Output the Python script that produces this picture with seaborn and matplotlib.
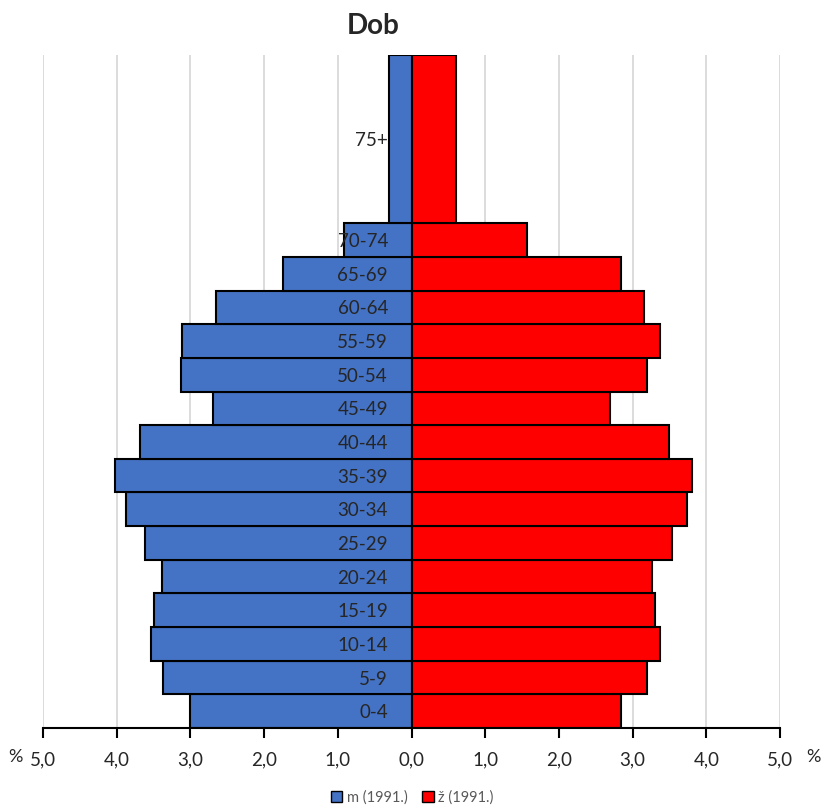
import numpy as np
import matplotlib
matplotlib.use("Agg")
import matplotlib.pyplot as plt
import seaborn as sns
from matplotlib.patches import Patch

# Age groups (bottom to top), span in 5-year bands
age_groups = ["0-4", "5-9", "10-14", "15-19", "20-24", "25-29", "30-34", "35-39",
              "40-44", "45-49", "50-54", "55-59", "60-64", "65-69", "70-74", "75+"]
age_span = [1, 1, 1, 1, 1, 1, 1, 1, 1, 1, 1, 1, 1, 1, 1, 5]

# Share of population (%), 1991
male_1991 = [3.01, 3.37, 3.53, 3.49, 3.39, 3.61, 3.87, 4.02,
             3.68, 2.70, 3.13, 3.11, 2.65, 1.74, 0.92, 0.31]
female_1991 = [2.84, 3.19, 3.37, 3.31, 3.27, 3.53, 3.74, 3.80,
               3.50, 2.70, 3.20, 3.37, 3.16, 2.84, 1.57, 0.60]

x_ticks = [-5, -4, -3, -2, -1, 0, 1, 2, 3, 4, 5]

sns.set_style("white")
plt.rcParams["font.family"] = ["Lato", "DejaVu Sans"]

fig = plt.figure(figsize=(8.24, 8.07), dpi=100)
ax = fig.add_axes([0.0522, 0.0979, 0.8944, 0.8339])

span = np.array(age_span, dtype=float)
bottoms = np.concatenate([[0], np.cumsum(span)[:-1]])
centers = bottoms + span / 2

ax.barh(bottoms, -np.array(male_1991), height=span, align="edge",
        color="#4472C4", edgecolor="black", linewidth=1.5, zorder=3)
ax.barh(bottoms, female_1991, height=span, align="edge",
        color="#FF0000", edgecolor="black", linewidth=1.5, zorder=3)

ax.set_xlim(-5, 5)
ax.set_ylim(0, span.sum())

# vertical gridlines
ax.set_xticks(x_ticks)
ax.xaxis.grid(True, color="#d9d9d9", linewidth=1.3)
ax.yaxis.grid(False)
ax.xaxis.set_zorder(0.5)
ax.set_xticklabels([f"{abs(v):.1f}".replace(".", ",") for v in x_ticks],
                   fontsize=13.5, color="#262626")
ax.tick_params(axis="x", bottom=True, direction="out", length=7, width=1.5,
               color="black", pad=10)

# category labels at the zero line, drawn above the bars
ax.spines["left"].set_position(("data", 0))
ax.spines["left"].set_visible(False)
ax.set_yticks(centers)
ax.set_yticklabels(age_groups, fontsize=13.5, color="#262626")
ax.tick_params(axis="y", length=0, pad=17)
ax.yaxis.set_zorder(5)

for s in ["top", "right"]:
    ax.spines[s].set_visible(False)
ax.spines["bottom"].set_color("black")
ax.spines["bottom"].set_linewidth(1.5)
ax.spines["bottom"].set_zorder(4)

fig.text(0.010, 0.062, "%", fontsize=13, color="#262626", ha="left", va="center")
fig.text(0.996, 0.062, "%", fontsize=13, color="#262626", ha="right", va="center")

fig.text(0.453, 0.968, "Dob", fontsize=20, fontweight="bold", ha="center", va="center")

handles = [Patch(facecolor="#4472C4", edgecolor="black", label="m (1991.)"),
           Patch(facecolor="#FF0000", edgecolor="black", label="ž (1991.)")]
fig.legend(handles=handles, loc="center", bbox_to_anchor=(0.5, 0.012), ncol=2,
           frameon=False, fontsize=10.5, labelcolor="#595959",
           handlelength=0.8, handleheight=0.8, handletextpad=0.3, columnspacing=1.0)

fig.savefig("out.png", dpi=100)
